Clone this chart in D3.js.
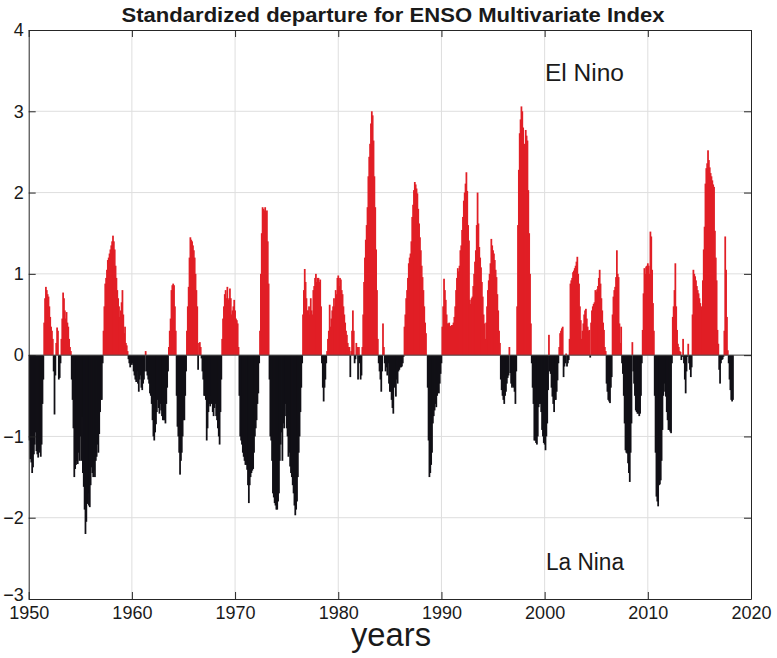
<!DOCTYPE html>
<html>
<head>
<meta charset="utf-8">
<script src="https://cdn.jsdelivr.net/npm/d3@7"></script>
<style>
  html, body { margin: 0; padding: 0; background: #fff; }
  svg { display: block; }
  text { font-family: "Liberation Sans", Arial, Helvetica, sans-serif; fill: #1a1a1a; }
</style>
</head>
<body>
<svg id="chart" width="777" height="658"></svg>
<script>
// Monthly standardized MEI values, one array per decade (Jan..Dec of each year)
const mei1950s = [
  -1.05,-1.28,-1.32,-1.45,-1.38,-1.22,-1.10,-0.95,-1.18,-1.22,-1.26,-1.15,
  -1.20,-1.25,-1.10,-0.60,-0.30,0.40,0.70,0.84,0.80,0.75,0.72,0.60,
  0.47,0.35,0.30,0.20,-0.20,-0.73,-0.25,0.15,0.34,0.30,-0.30,-0.28,
  -0.10,0.20,0.45,0.77,0.70,0.55,0.45,0.53,0.40,0.35,0.20,0.10,
  0.05,-0.30,-0.55,-0.90,-1.50,-1.40,-1.35,-1.30,-1.34,-1.20,-1.30,-1.00,
  -1.30,-0.76,-1.45,-1.62,-1.90,-2.20,-2.05,-1.83,-1.70,-1.85,-1.87,-1.60,
  -1.38,-1.45,-1.50,-1.42,-1.50,-1.30,-1.25,-1.10,-1.20,-0.97,-0.70,-0.55,
  -0.55,-0.10,0.30,0.60,0.88,0.95,1.05,1.17,1.20,1.25,1.30,1.35,
  1.40,1.47,1.40,1.30,1.10,0.95,0.80,0.70,0.60,0.47,0.55,0.65,
  0.80,0.50,0.27,0.35,0.15,0.12,0.05,-0.05,-0.10,-0.15,-0.10,-0.12
];
const mei1960s = [
  -0.10,-0.20,-0.25,-0.30,-0.33,-0.20,-0.35,-0.45,-0.30,-0.25,-0.40,-0.43,
  -0.35,-0.30,-0.20,0.05,-0.20,-0.25,-0.30,-0.35,-0.47,-0.50,-0.60,-0.80,
  -1.00,-1.05,-0.95,-0.85,-0.70,-0.55,-0.65,-0.72,-0.60,-0.68,-0.75,-0.80,
  -0.80,-0.80,-0.84,-0.60,-0.40,-0.20,0.10,0.30,0.45,0.80,0.86,0.88,
  0.86,0.60,0.30,-0.50,-0.88,-1.00,-1.20,-1.47,-1.30,-1.20,-1.00,-0.80,
  -0.80,-0.50,-0.20,0.30,0.60,0.84,1.20,1.45,1.42,1.40,1.35,1.29,
  1.20,1.00,0.80,0.60,-0.18,0.15,0.16,0.10,-0.04,-0.20,-0.30,-0.50,
  -0.50,-0.55,-1.05,-0.90,-0.70,-0.60,-0.63,-0.50,-0.60,-0.70,-0.75,-0.65,
  -0.60,-0.75,-0.80,-0.90,-1.00,-1.10,-0.70,-0.30,0.20,0.45,0.60,0.75,
  0.80,0.70,0.84,0.68,0.70,0.82,0.70,0.50,0.55,0.60,0.68,0.55
];
const mei1970s = [
  0.45,0.43,0.39,0.10,-0.50,-1.00,-1.05,-1.10,-1.20,-1.25,-1.30,-1.35,
  -1.35,-1.41,-1.60,-1.82,-1.60,-1.50,-1.45,-1.42,-1.40,-1.20,-1.00,-0.90,
  -0.80,-0.60,-0.47,-0.10,0.30,1.00,1.50,1.82,1.80,1.78,1.82,1.75,
  1.78,1.40,0.88,-0.30,-1.00,-1.05,-1.30,-1.70,-1.75,-1.82,-1.85,-1.90,
  -1.90,-1.80,-1.70,-1.30,-1.10,-0.95,-1.30,-0.84,-0.90,-0.75,-0.60,-0.90,
  -1.00,-1.25,-1.20,-1.37,-1.45,-1.50,-1.60,-1.70,-1.85,-1.97,-1.90,-1.80,
  -1.50,-1.20,-1.00,-0.70,-0.40,-0.10,0.50,0.80,1.06,0.90,0.70,0.55,
  0.55,0.60,0.50,0.70,0.55,0.50,0.80,0.85,0.95,1.00,0.90,0.95,
  0.95,0.90,0.93,0.60,-0.10,-0.40,-0.57,-0.40,-0.30,-0.10,0.05,0.20,
  0.30,0.62,0.35,0.45,0.55,0.60,0.70,0.60,0.80,0.75,0.95,0.98
];
const mei1980s = [
  0.85,0.95,0.93,0.80,0.75,0.60,0.50,0.40,0.30,0.25,0.15,0.10,
  0.10,-0.27,0.05,0.30,0.55,0.30,-0.10,-0.05,0.15,0.10,-0.30,0.10,
  -0.10,-0.30,-0.25,0.10,0.50,0.90,1.20,1.42,1.60,1.82,2.20,2.44,
  2.60,2.85,3.00,2.95,2.64,2.20,1.82,1.30,0.80,0.20,-0.10,-0.20,
  -0.30,-0.45,-0.20,0.39,0.10,-0.10,-0.20,-0.15,-0.25,-0.10,-0.35,-0.45,
  -0.45,-0.55,-0.65,-0.72,-0.40,-0.35,-0.51,-0.30,-0.35,-0.20,-0.18,-0.15,
  -0.15,-0.14,-0.10,-0.02,0.35,0.50,0.70,0.80,0.95,1.13,1.20,1.25,
  1.40,1.70,1.85,2.03,2.13,2.10,2.05,1.99,1.80,1.62,1.45,1.29,
  1.10,0.96,0.80,0.60,0.40,0.27,0.00,-0.40,-1.05,-1.50,-1.45,-1.35,
  -1.20,-0.84,-0.75,-0.68,-0.60,-0.64,-0.50,-0.43,-0.47,-0.35,-0.23,-0.10
];
const mei1990s = [
  0.35,0.60,0.94,0.80,0.68,0.50,0.39,0.39,0.40,0.35,0.36,0.37,
  0.37,0.40,0.47,0.60,0.80,0.95,1.07,1.03,1.10,1.29,1.35,1.54,
  1.70,1.90,2.00,2.11,2.25,2.02,1.60,1.41,0.68,0.63,0.70,0.72,
  0.85,1.00,1.15,1.29,1.60,2.00,1.62,1.33,1.20,1.08,0.90,0.72,
  0.50,0.39,0.20,0.40,0.60,0.80,0.92,1.00,1.13,1.43,1.35,1.29,
  1.25,1.17,1.05,0.96,0.75,0.55,0.30,0.15,-0.30,-0.43,-0.50,-0.55,
  -0.60,-0.50,-0.45,-0.35,-0.28,-0.25,0.10,-0.22,-0.35,-0.40,-0.38,-0.40,
  -0.45,-0.60,-0.20,0.60,1.60,2.28,2.73,2.90,3.06,3.00,2.80,2.56,
  2.60,2.77,2.70,2.64,2.03,1.50,1.00,0.39,-0.10,-0.40,-0.60,-1.05,
  -1.05,-1.08,-1.10,-1.00,-0.64,-0.60,-0.60,-0.70,-0.92,-1.00,-1.08,-1.10
];
const mei2000s = [
  -1.17,-1.00,-0.84,-0.43,0.25,-0.20,-0.23,-0.40,-0.51,-0.60,-0.70,-0.55,
  -0.55,-0.45,-0.31,-0.10,0.10,0.27,0.30,0.33,0.35,-0.27,-0.14,-0.10,
  0.02,-0.14,-0.10,-0.06,0.20,0.88,0.92,0.95,1.02,1.04,1.07,1.10,
  1.15,1.21,1.00,0.88,0.60,0.43,0.20,0.30,0.39,0.50,0.55,0.57,
  0.45,0.35,0.30,0.31,-0.03,0.40,0.55,0.60,0.63,0.65,0.80,0.78,
  0.81,0.85,0.95,1.05,0.88,0.70,0.55,0.40,0.31,0.10,0.05,-0.35,
  -0.45,-0.55,-0.57,-0.59,-0.40,-0.27,0.50,0.72,0.80,0.84,0.96,1.29,
  1.00,0.96,0.39,0.15,0.35,-0.10,-0.23,-0.50,-0.84,-1.17,-1.20,-1.21,
  -1.33,-1.45,-1.56,-1.20,-0.84,0.16,-0.20,-0.35,-0.50,-0.68,-0.70,-0.72,
  -0.72,-0.75,-0.72,-0.50,-0.10,0.31,0.76,1.07,1.00,1.09,1.10,1.13
];
const mei2010s = [
  1.10,1.00,1.52,1.46,1.05,0.64,0.30,-0.50,-1.20,-1.74,-1.80,-1.86,
  -1.60,-1.59,-1.54,-1.30,-0.92,-0.50,-0.35,-0.45,-0.51,-0.70,-0.80,-0.92,
  -0.92,-0.94,-0.96,-0.10,0.47,0.60,0.80,1.13,0.60,0.31,0.14,0.10,
  0.05,0.04,-0.06,-0.02,0.20,-0.10,-0.30,-0.47,-0.20,-0.02,0.14,-0.10,
  -0.18,-0.27,-0.15,0.50,1.05,1.00,0.97,0.92,0.85,0.80,0.76,0.70,
  0.64,0.60,0.55,0.92,1.30,1.58,2.11,2.30,2.36,2.52,2.40,2.31,
  2.24,2.20,2.15,2.10,2.07,1.53,1.20,0.92,0.31,0.14,-0.18,-0.35,
  -0.10,-0.06,-0.05,-0.02,0.30,1.46,1.05,0.47,0.06,-0.10,-0.30,-0.43,
  -0.55,-0.57,-0.55
];

const startYear = 1950;
const xTicks = [1950, 1960, 1970, 1980, 1990, 2000, 2010, 2020];
const yTicks = [-3, -2, -1, 0, 1, 2, 3, 4];
const titleText = "Standardized departure for ENSO Multivariate Index";
const xLabel = "years";
const upperNote = "El Nino";
const lowerNote = "La Nina";

const values = [].concat(mei1950s, mei1960s, mei1970s, mei1980s, mei1990s, mei2000s, mei2010s);
const series = values.map((v, i) => ({ t: startYear + i / 12, v }));

const svg = d3.select("#chart");
const W = 777, H = 658;
const m = { left: 28.7, right: 751, top: 30, bottom: 599 };

svg.append("rect").attr("width", W).attr("height", H).attr("fill", "#fff");

const x = d3.scaleLinear().domain([1950, 2020]).range([m.left, m.right]);
const y = d3.scaleLinear().domain([-3, 4]).range([m.bottom, m.top]);

// grid
const grid = svg.append("g").attr("stroke", "#dedede").attr("stroke-width", 1);
grid.selectAll("line.gx").data(xTicks.slice(1, -1)).join("line")
  .attr("x1", d => x(d)).attr("x2", d => x(d))
  .attr("y1", m.top).attr("y2", m.bottom);
grid.selectAll("line.gy").data(yTicks.slice(1, -1)).join("line")
  .attr("y1", d => y(d)).attr("y2", d => y(d))
  .attr("x1", m.left).attr("x2", m.right);

// monthly bars; each one slightly overlaps the next so the fill reads as solid
const step = x(startYear + 1 / 12) - x(startYear);
svg.append("g").selectAll("rect").data(series).join("rect")
  .attr("x", d => x(d.t))
  .attr("width", step + 0.9)
  .attr("y", d => d.v >= 0 ? y(d.v) : y(0))
  .attr("height", d => Math.abs(y(d.v) - y(0)))
  .attr("fill", d => d.v >= 0 ? "#e11f26" : "#111016");

// baseline
svg.append("line")
  .attr("x1", m.left).attr("x2", m.right)
  .attr("y1", y(0)).attr("y2", y(0))
  .attr("stroke", "#4a4a4a").attr("stroke-width", 1);

// axes with inward ticks on all four sides
const tickLen = 7;
const bottomAxis = d3.axisBottom(x).tickValues(xTicks).tickFormat(d3.format("d"))
  .tickSizeInner(-tickLen).tickSizeOuter(0).tickPadding(7.5);
const topAxis = d3.axisTop(x).tickValues(xTicks).tickFormat("")
  .tickSizeInner(-tickLen).tickSizeOuter(0);
const leftAxis = d3.axisLeft(y).tickValues(yTicks).tickFormat(d3.format("d"))
  .tickSizeInner(-tickLen).tickSizeOuter(0).tickPadding(5);
const rightAxis = d3.axisRight(y).tickValues(yTicks).tickFormat("")
  .tickSizeInner(-tickLen).tickSizeOuter(0);

function styleAxis(g, size) {
  g.select(".domain").attr("stroke", "#262626");
  g.selectAll(".tick line").attr("stroke", "#262626");
  g.selectAll(".tick text").attr("fill", "#1a1a1a")
    .style("font-family", "'Liberation Sans', Arial, sans-serif")
    .style("font-size", size + "px");
}
svg.append("g").attr("transform", `translate(0,${m.bottom})`).call(bottomAxis).call(styleAxis, 18);
svg.append("g").attr("transform", `translate(0,${m.top})`).call(topAxis).call(styleAxis, 18);
const leftG = svg.append("g").attr("transform", `translate(${m.left},0)`).call(leftAxis).call(styleAxis, 18);
svg.append("g").attr("transform", `translate(${m.right},0)`).call(rightAxis).call(styleAxis, 18);
// lift the bottom-most y label a little so it clears the first year label
leftG.selectAll(".tick text").filter(d => d === yTicks[0]).attr("y", -4);

// title and labels
svg.append("text").attr("x", 393).attr("y", 22).attr("text-anchor", "middle")
  .style("font-size", "20px").style("font-weight", "bold")
  .attr("textLength", 543).attr("lengthAdjust", "spacingAndGlyphs")
  .text(titleText);
svg.append("text").attr("x", 391).attr("y", 646).attr("text-anchor", "middle")
  .style("font-size", "33px")
  .attr("textLength", 80).attr("lengthAdjust", "spacingAndGlyphs")
  .text(xLabel);
svg.append("text").attr("x", 545).attr("y", 81)
  .style("font-size", "23px")
  .attr("textLength", 79).attr("lengthAdjust", "spacingAndGlyphs")
  .text(upperNote);
svg.append("text").attr("x", 546).attr("y", 570)
  .style("font-size", "23px")
  .attr("textLength", 78).attr("lengthAdjust", "spacingAndGlyphs")
  .text(lowerNote);
</script>
</body>
</html>
